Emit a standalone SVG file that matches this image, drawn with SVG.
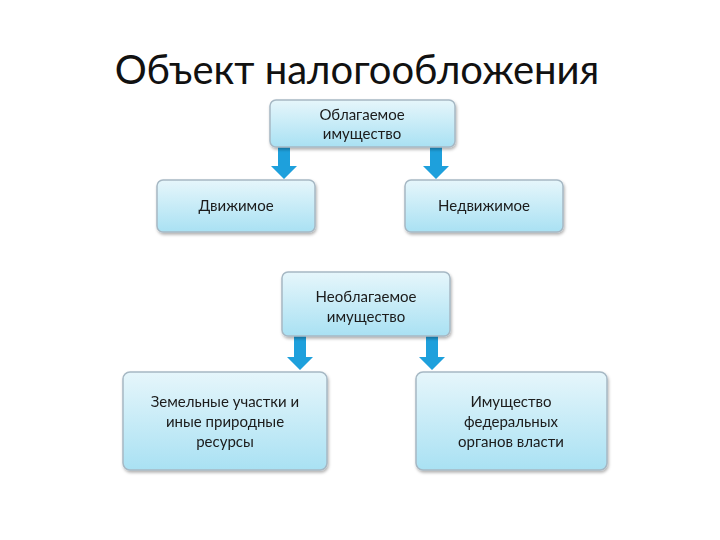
<svg xmlns="http://www.w3.org/2000/svg" width="720" height="540" viewBox="0 0 720 540">
<style>
.b{fill:url(#g);stroke:#a6b8c4;stroke-width:1.5}
.t{font-family:Lato,"Open Sans",sans-serif;font-size:15px;fill:#1a1a1a;text-anchor:middle}
.a{fill:#1ea0dc}
</style>
<defs>
<linearGradient id="g" x1="0" y1="0" x2="0" y2="1"><stop offset="0" stop-color="#e6f6fb"/><stop offset="1" stop-color="#a9e1f3"/></linearGradient>
<filter id="s" x="-10%" y="-10%" width="130%" height="140%"><feDropShadow dx="1" dy="2" stdDeviation="1.5" flood-color="#000" flood-opacity="0.3"/></filter>
</defs>
<rect width="720" height="540" fill="#fff"/>
<text x="357" y="84" font-family="Lato,'Open Sans',sans-serif" font-size="40" text-anchor="middle" fill="#111">Объект налогообложения</text>
<g id="connectors">
<path class="a" d="M278 147h12v19h7l-13 13-13-13h7z"/>
<path class="a" d="M430 147h12v19h7l-13 13-13-13h7z"/>
<path class="a" d="M294 336h12v21h7l-13 13-13-13h7z"/>
<path class="a" d="M426 336h12v21h7l-13 13-13-13h7z"/>
</g>
<g id="n1" filter="url(#s)"><rect class="b" x="270" y="100" width="185" height="47" rx="6"/><text class="t" x="362" y="120">Облагаемое</text><text class="t" x="362" y="139">имущество</text></g>
<g id="n2" filter="url(#s)"><rect class="b" x="157" y="180" width="158" height="52" rx="6"/><text class="t" x="236" y="211">Движимое</text></g>
<g id="n3" filter="url(#s)"><rect class="b" x="405" y="180" width="158" height="52" rx="6"/><text class="t" x="484" y="211">Недвижимое</text></g>
<g id="n4" filter="url(#s)"><rect class="b" x="282" y="272" width="168" height="64" rx="6"/><text class="t" x="366" y="302">Необлагаемое</text><text class="t" x="366" y="322">имущество</text></g>
<g id="n5" filter="url(#s)"><rect class="b" x="123" y="372" width="204" height="98" rx="7"/><text class="t" x="225" y="407">Земельные участки и</text><text class="t" x="225" y="427">иные природные</text><text class="t" x="225" y="447">ресурсы</text></g>
<g id="n6" filter="url(#s)"><rect class="b" x="416" y="372" width="191" height="98" rx="7"/><text class="t" x="511" y="407">Имущество</text><text class="t" x="511" y="427">федеральных</text><text class="t" x="511" y="447">органов власти</text></g>
</svg>
